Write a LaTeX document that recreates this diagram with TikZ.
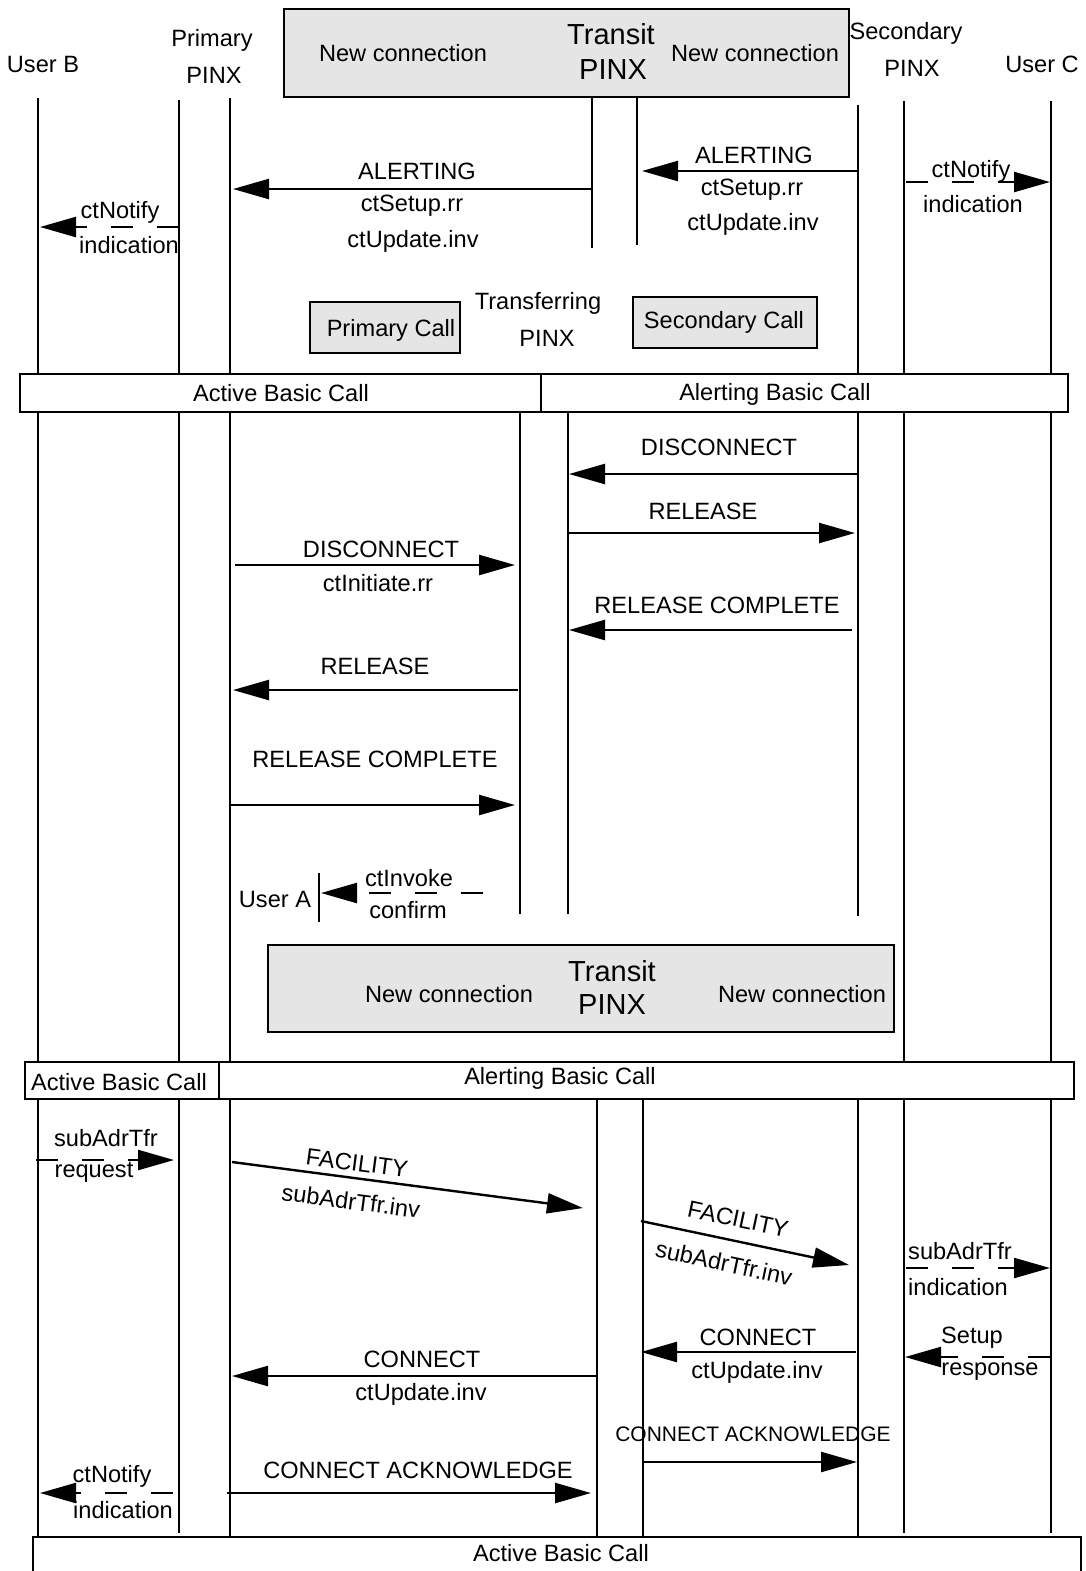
\documentclass[tikz,border=0pt]{standalone}
\usepackage{fontspec}
\setmainfont{Liberation Sans}
\usepackage{tikz}
\usetikzlibrary{arrows.meta}
\usetikzlibrary{positioning}
\tikzset{>=latex}
\tikzset{lbl/.style = {draw=none, inner sep = 0, font = \fontsize{11.8}{14}\selectfont}}
\tikzset{sml/.style = {draw=none, inner sep = 0, font = \fontsize{10.5}{12}\selectfont}}
\tikzset{big/.style = {draw=none, inner sep = 0, font = \fontsize{14.5}{17}\selectfont}}
\tikzset{msg/.style = {line width = 1.2pt, -{Triangle[length=18pt, width=10pt]}}}
\tikzset{note/.style = {msg, dash pattern = on 11pt off 12pt}}
\tikzset{life/.style = {line width = 1.3pt}}
\tikzset{bar/.style = {draw = black, line width = 1.3pt, fill = white}}
\tikzset{pinxbox/.style = {draw = black, line width = 1.3pt, fill = gray!20}}

\begin{document}
\begin{tikzpicture}[x = 0.5pt, y = -0.5pt]
\useasboundingbox (0, 0) rectangle (1086, 1571);
% lifelines
\draw [life] (38, 98) -- (38, 1537);
\draw [life] (179, 100) -- (179, 1533);
\draw [life] (230, 98) -- (230, 1537);
\draw [life] (592, 97) -- (592, 248);
\draw [life] (637, 97) -- (637, 245);
\draw [life] (858, 105) -- (858, 916);
\draw [life] (904, 101) -- (904, 1533);
\draw [life] (1051, 101) -- (1051, 1533);
\draw [life] (520, 412) -- (520, 914);
\draw [life] (568, 412) -- (568, 914);
\draw [life] (319, 873) -- (319, 922);
\draw [life] (597, 1097) -- (597, 1537);
\draw [life] (643, 1099) -- (643, 1537);
\draw [life] (858, 1099) -- (858, 1537);

% headers
\node [lbl] (UB) at (43, 64) {User B};
\node [lbl] (PP1) at (212, 40) {Primary};
\node [lbl] (PP2) at (214, 75) {PINX};
\node [lbl] (SP1) at (906, 33) {Secondary};
\node [lbl] (SP2) at (912, 68) {PINX};
\node [lbl] (UC) at (1042, 64) {User C};

% transit PINX (top)
\draw [pinxbox] (284, 9) rectangle (849, 97);
\node [lbl] (NCa) at (403, 53) {New connection};
\node [big] (TPa) at (611, 34) {Transit};
\node [big] (TPb) at (613, 70) {PINX};
\node [lbl] (NCb) at (755, 53) {New connection};

% alerting
\coordinate (al1s) at (592, 189);
\coordinate (al1e) at (233, 189);
\draw [msg] (al1s) to (al1e);
\node [lbl] (al1a) at (417, 171) {ALERTING};
\node [lbl] (al1b) at (412, 206) {ctSetup.rr};
\node [lbl] (al1c) at (413, 241) {ctUpdate.inv};
\coordinate (al2s) at (858, 171);
\coordinate (al2e) at (642, 171);
\draw [msg] (al2s) to (al2e);
\node [lbl] (al2a) at (754, 155) {ALERTING};
\node [lbl] (al2b) at (752, 190) {ctSetup.rr};
\node [lbl] (al2c) at (753, 224) {ctUpdate.inv};
\coordinate (nt1s) at (179, 227);
\coordinate (nt1e) at (40, 227);
\draw [note] (nt1s) to (nt1e);
\node [lbl] (nt1a) at (120, 212) {ctNotify};
\node [lbl] (nt1b) at (129, 245) {indication};
\coordinate (nt2s) at (906, 182);
\coordinate (nt2e) at (1050, 182);
\draw [note] (nt2s) to (nt2e);
\node [lbl] (nt2a) at (971, 171) {ctNotify};
\node [lbl] (nt2b) at (973, 204) {indication};

% calls
\draw [pinxbox] (310, 302) rectangle (460, 353);
\node [lbl] (PC) at (391, 330) {Primary Call};
\draw [pinxbox] (633, 297) rectangle (817, 348);
\node [lbl] (SC) at (724, 322) {Secondary Call};
\node [lbl] (TR1) at (538, 303) {Transferring};
\node [lbl] (TR2) at (547, 338) {PINX};

\draw [bar] (20, 374) rectangle (541, 412);
\node [lbl] (AB1) at (281, 393) {Active Basic Call};
\draw [bar] (541, 374) rectangle (1068, 412);
\node [lbl] (LB1) at (775, 394) {Alerting Basic Call};

% clearing
\coordinate (dc1s) at (858, 474);
\coordinate (dc1e) at (569, 474);
\draw [msg] (dc1s) to (dc1e);
\node [lbl] (dc1a) at (719, 447) {DISCONNECT};
\coordinate (rl1s) at (568, 533);
\coordinate (rl1e) at (855, 533);
\draw [msg] (rl1s) to (rl1e);
\node [lbl] (rl1a) at (703, 511) {RELEASE};
\coordinate (dc2s) at (235, 565);
\coordinate (dc2e) at (515, 565);
\draw [msg] (dc2s) to (dc2e);
\node [lbl] (dc2a) at (381, 549) {DISCONNECT};
\node [lbl] (dc2b) at (378, 583) {ctInitiate.rr};
\coordinate (rc1s) at (852, 630);
\coordinate (rc1e) at (569, 630);
\draw [msg] (rc1s) to (rc1e);
\node [lbl] (rc1a) at (717, 605) {RELEASE COMPLETE};
\coordinate (rl2s) at (518, 690);
\coordinate (rl2e) at (233, 690);
\draw [msg] (rl2s) to (rl2e);
\node [lbl] (rl2a) at (375, 666) {RELEASE};
\coordinate (rc2s) at (230, 805);
\coordinate (rc2e) at (515, 805);
\draw [msg] (rc2s) to (rc2e);
\node [lbl] (rc2a) at (375, 759) {RELEASE COMPLETE};
\coordinate (ivs) at (483, 893);
\coordinate (ive) at (321, 893);
\draw [note] (ivs) to (ive);
\node [lbl] (iva) at (409, 878) {ctInvoke};
\node [lbl] (ivb) at (408, 910) {confirm};
\node [lbl] (UA) at (275, 899) {User A};

% transit PINX (bottom)
\draw [pinxbox] (268, 945) rectangle (894, 1032);
\node [lbl] (NCc) at (449, 994) {New connection};
\node [big] (TPc) at (612, 971) {Transit};
\node [big] (TPd) at (612, 1005) {PINX};
\node [lbl] (NCd) at (802, 994) {New connection};

\draw [bar] (25, 1062) rectangle (219, 1099);
\node [lbl] (AB2) at (119, 1082) {Active Basic Call};
\draw [bar] (219, 1062) rectangle (1074, 1099);
\node [lbl] (LB2) at (560, 1078) {Alerting Basic Call};

% transfer
\coordinate (sa1s) at (36, 1160);
\coordinate (sa1e) at (174, 1160);
\draw [note] (sa1s) to (sa1e);
\node [lbl] (sa1a) at (106, 1138) {subAdrTfr};
\node [lbl] (sa1b) at (94, 1172) {request};
\coordinate (fc1s) at (232, 1162);
\coordinate (fc1e) at (583, 1208);
\draw [msg] (fc1s) to (fc1e);
\node [lbl, rotate = -7.5] (fc1a) at (357, 1163) {FACILITY};
\node [lbl, rotate = -7.5] (fc1b) at (351, 1201) {subAdrTfr.inv};
\coordinate (fc2s) at (641, 1221);
\coordinate (fc2e) at (849, 1265);
\draw [msg] (fc2s) to (fc2e);
\node [lbl, rotate = -12] (fc2a) at (738, 1219) {FACILITY};
\node [lbl, rotate = -12] (fc2b) at (724, 1263) {subAdrTfr.inv};
\coordinate (sa2s) at (906, 1268);
\coordinate (sa2e) at (1050, 1268);
\draw [note] (sa2s) to (sa2e);
\node [lbl] (sa2a) at (960, 1251) {subAdrTfr};
\node [lbl] (sa2b) at (958, 1287) {indication};

% connect
\coordinate (cn1s) at (856, 1352);
\coordinate (cn1e) at (641, 1352);
\draw [msg] (cn1s) to (cn1e);
\node [lbl] (cn1a) at (758, 1337) {CONNECT};
\node [lbl] (cn1b) at (757, 1372) {ctUpdate.inv};
\coordinate (surs) at (1050, 1357);
\coordinate (sure) at (905, 1357);
\draw [note] (surs) to (sure);
\node [lbl] (sura) at (972, 1338) {Setup};
\node [lbl] (surb) at (990, 1372) {response};
\coordinate (cn2s) at (596, 1376);
\coordinate (cn2e) at (232, 1376);
\draw [msg] (cn2s) to (cn2e);
\node [lbl] (cn2a) at (422, 1359) {CONNECT};
\node [lbl] (cn2b) at (421, 1394) {ctUpdate.inv};
\coordinate (ca1s) at (643, 1462);
\coordinate (ca1e) at (857, 1462);
\draw [msg] (ca1s) to (ca1e);
\node [sml] (ca1a) at (753, 1434) {CONNECT ACKNOWLEDGE};
\coordinate (ca2s) at (227, 1493);
\coordinate (ca2e) at (591, 1493);
\draw [msg] (ca2s) to (ca2e);
\node [lbl] (ca2a) at (418, 1470) {CONNECT ACKNOWLEDGE};
\coordinate (nt3s) at (173, 1493);
\coordinate (nt3e) at (40, 1493);
\draw [note] (nt3s) to (nt3e);
\node [lbl] (nt3a) at (112, 1476) {ctNotify};
\node [lbl] (nt3b) at (123, 1510) {indication};

\draw [bar] (33, 1537) rectangle (1081, 1600);
\node [lbl] (AB3) at (561, 1553) {Active Basic Call};
\end{tikzpicture}
\end{document}
